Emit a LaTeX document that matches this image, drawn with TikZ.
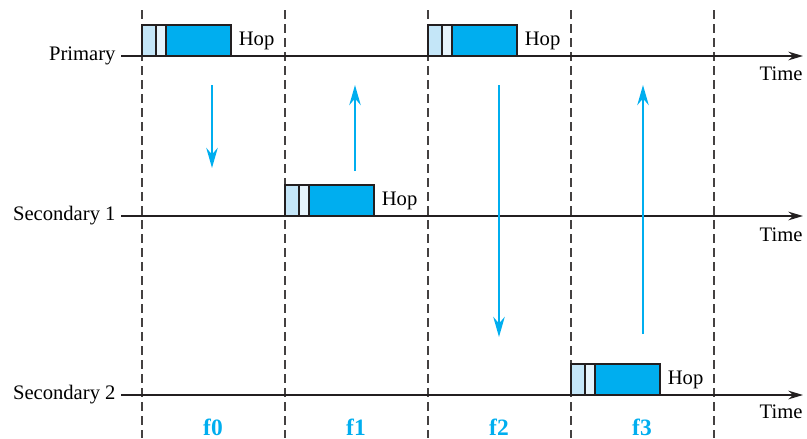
\documentclass[tikz,border=0pt]{standalone}
\usepackage{fontspec}
\setmainfont{Liberation Serif}
\usetikzlibrary{arrows.meta,positioning}
\definecolor{Ink}{HTML}{231F20}
\definecolor{Cyan}{HTML}{00AEEF}
\definecolor{PaleCyan}{HTML}{C4E6F8}
\definecolor{IceCyan}{HTML}{E6F4FC}
\tikzset{
  slot/.style={draw=Ink!85, line width=0.5pt, dash pattern=on 1.3mm off 0.8mm},
  axis/.style={-{Stealth[length=2.2mm,width=1.3mm]}, line width=0.55pt, draw=Ink},
  hdr/.style={draw=Ink, line width=0.5pt, fill=PaleCyan, minimum width=2.1mm,
    minimum height=4.65mm, inner sep=0pt, outer sep=0pt},
  ctl/.style={hdr, fill=IceCyan, minimum width=1.5mm},
  payload/.style={hdr, fill=Cyan, minimum width=9.75mm},
  station/.style={anchor=east, inner sep=0pt},
  timelbl/.style={anchor=east, inner sep=0pt},
  hoplbl/.style={inner sep=0pt},
  hopflow/.style={-{Stealth[length=3mm,width=1.7mm]}, line width=1.2pt, draw=Cyan},
  freq/.style={text=Cyan, font=\bfseries, inner sep=0pt}
}

\begin{document}
\begin{tikzpicture}[x=0.15mm,y=-0.15mm,font=\fontsize{8.8}{10.5}\selectfont]
  \useasboundingbox (0,0) rectangle (807,438);
  % hop boundaries
  \foreach \x in {142,285,428,571,714}
    \draw[slot] (\x,10) -- (\x,438);
  % stations and time axes
  \node[station] (prim) at (116,56) {Primary};
  \node[station] (sec1) at (116,216) {Secondary 1};
  \node[station] (sec2) at (116,395) {Secondary 2};
  \coordinate (primend) at (803,56);
  \coordinate (sec1end) at (803,216);
  \coordinate (sec2end) at (803,395);
  \draw[axis] (prim.east)++(5,0) -- (primend);
  \draw[axis] (sec1.east)++(5,0) -- (sec1end);
  \draw[axis] (sec2.east)++(5,0) -- (sec2end);
  \node[timelbl] (t0) at (803,74) {Time};
  \node[timelbl] (t1) at (803,235) {Time};
  \node[timelbl] (t2) at (803,412) {Time};
  % packets
  \foreach \n/\x/\y in {a/142/56,b/285/216,c/428/56,d/571/395} {
    \node[hdr,anchor=south west] (h\n) at (\x,\y) {};
    \node[ctl,right=0pt of h\n] (c\n) {};
    \node[payload,right=0pt of c\n] (p\n) {};
    \node[hoplbl,right=1.1mm of p\n] (hop\n) {Hop};
  }
  % hops
  \coordinate (f0top) at (212,85);
  \coordinate (f0bot) at (212,168);
  \coordinate (f1top) at (355,85);
  \coordinate (f1bot) at (355,171);
  \coordinate (f2top) at (499,85);
  \coordinate (f2bot) at (499,337);
  \coordinate (f3top) at (643,85);
  \coordinate (f3bot) at (643,334);
  \draw[hopflow] (f0top) -- (f0bot);
  \draw[hopflow] (f1bot) -- (f1top);
  \draw[hopflow] (f2top) -- (f2bot);
  \draw[hopflow] (f3bot) -- (f3top);
  \node[freq] (f0) at (213,427) {f0};
  \node[freq] (f1) at (356,427) {f1};
  \node[freq] (f2) at (499,427) {f2};
  \node[freq] (f3) at (642,427) {f3};
\end{tikzpicture}
\end{document}
